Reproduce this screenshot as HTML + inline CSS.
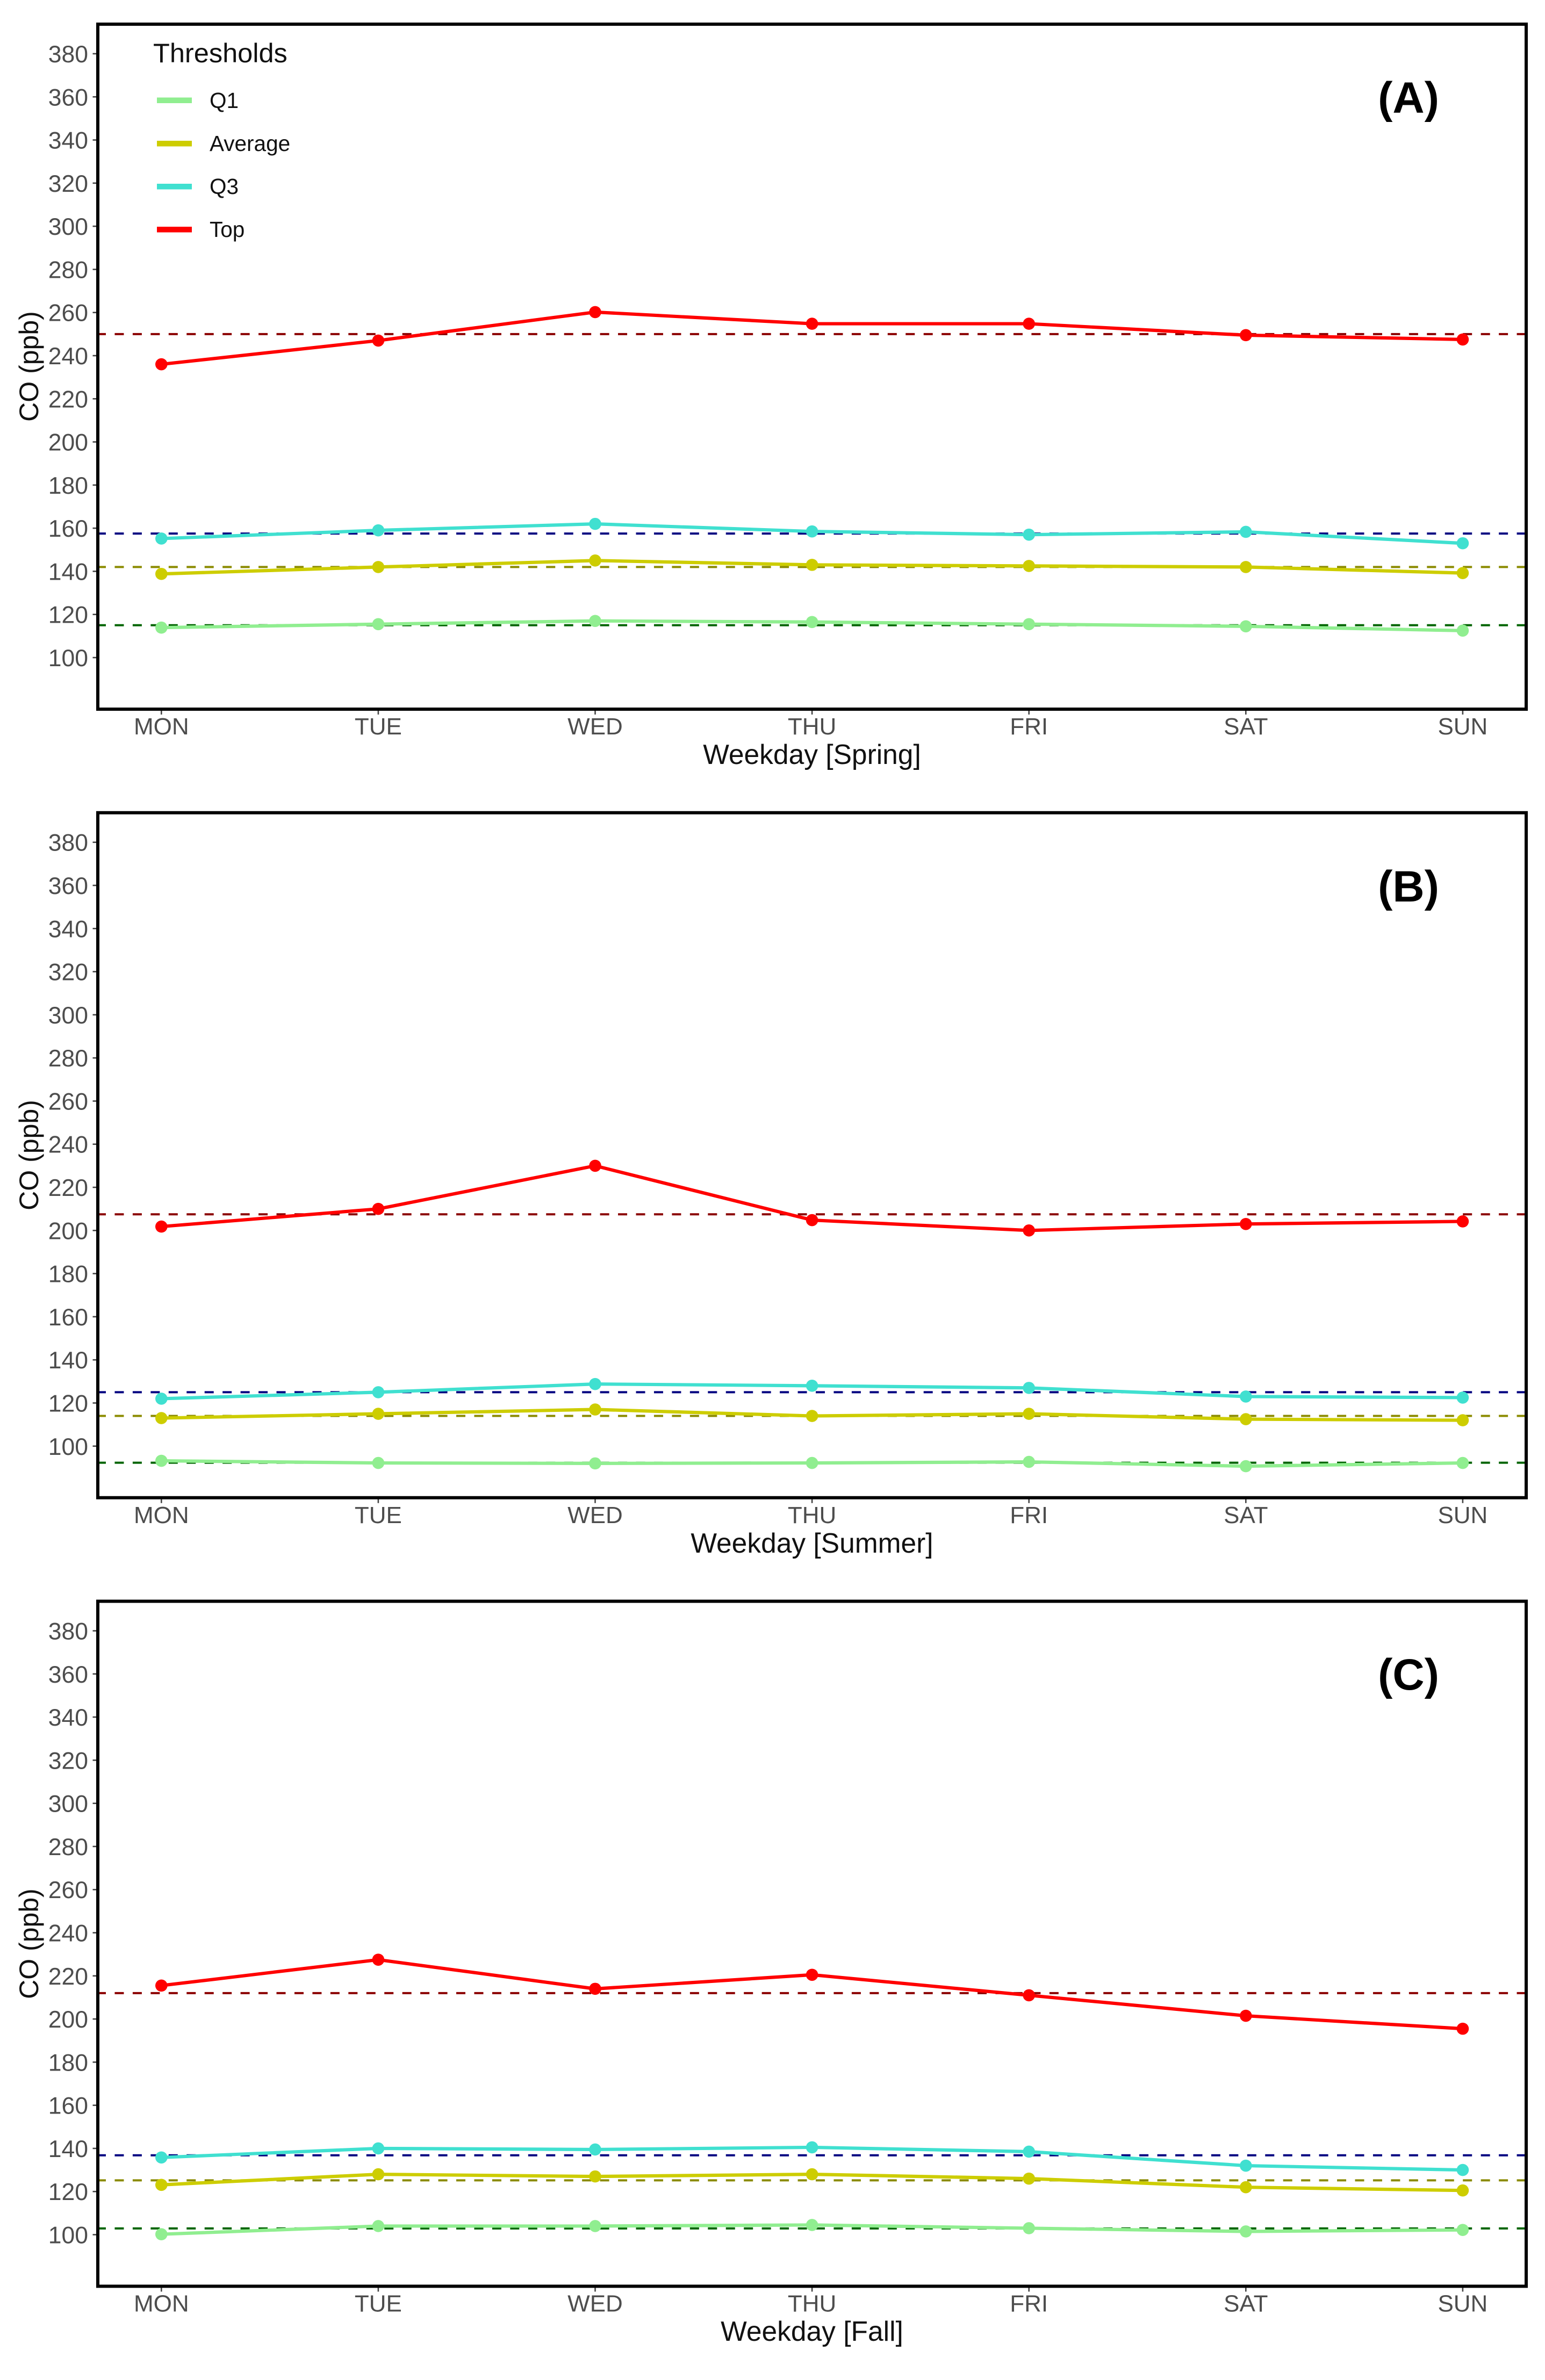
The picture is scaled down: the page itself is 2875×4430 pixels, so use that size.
<!DOCTYPE html>
<html lang="en">
<head>
<meta charset="utf-8">
<title>CO by weekday and season</title>
<style>
html,body{margin:0;padding:0;background:#fff;}
svg{display:block;font-family:"Liberation Sans",Arial,sans-serif;}
</style>
</head>
<body>
<svg id="chart" xmlns="http://www.w3.org/2000/svg" width="2875" height="4430" viewBox="0 0 2875 4430">
  <rect x="0" y="0" width="2875" height="4430" fill="#fff"/>

  <g id="panel-0">
    <text transform="translate(71,682) rotate(-90)" text-anchor="middle" font-size="50" fill="#111">CO (ppb)</text>
    <text x="1511" y="1422" text-anchor="middle" font-size="51.5" fill="#111">Weekday [Spring]</text>
    <text x="2621" y="210" text-anchor="middle" font-size="82" font-weight="bold" fill="#000">(A)</text>
  </g>
  <g id="panel-1">
    <text transform="translate(71,2150) rotate(-90)" text-anchor="middle" font-size="50" fill="#111">CO (ppb)</text>
    <text x="1511" y="2890" text-anchor="middle" font-size="51.5" fill="#111">Weekday [Summer]</text>
    <text x="2621" y="1678" text-anchor="middle" font-size="82" font-weight="bold" fill="#000">(B)</text>
  </g>
  <g id="panel-2">
    <text transform="translate(71,3618) rotate(-90)" text-anchor="middle" font-size="50" fill="#111">CO (ppb)</text>
    <text x="1511" y="4357" text-anchor="middle" font-size="51.5" fill="#111">Weekday [Fall]</text>
    <text x="2621" y="3145" text-anchor="middle" font-size="82" font-weight="bold" fill="#000">(C)</text>
  </g>

  <g>
    <text x="285" y="116" font-size="50.5" fill="#111">Thresholds</text>
    <rect x="292" y="181.5" width="65" height="10.5" fill="#90EE90"/>
    <text x="390" y="201" font-size="40.5" fill="#111">Q1</text>
    <rect x="292" y="262" width="65" height="10.5" fill="#CDCD00"/>
    <text x="390" y="281" font-size="40.5" fill="#111">Average</text>
    <rect x="292" y="342" width="65" height="10.5" fill="#40E0D0"/>
    <text x="390" y="361" font-size="40.5" fill="#111">Q3</text>
    <rect x="292" y="422" width="65" height="10.5" fill="#FF0000"/>
    <text x="390" y="441" font-size="40.5" fill="#111">Top</text>
  </g>
</svg>
<script>
const weekdays = ['MON', 'TUE', 'WED', 'THU', 'FRI', 'SAT', 'SUN'];
const yTicks = [100, 120, 140, 160, 180, 200, 220, 240, 260, 280, 300, 320, 340, 360, 380];
const seriesNames = ['q1', 'average', 'q3', 'top'];
const lineColors = ['#90EE90', '#CDCD00', '#40E0D0', '#FF0000'];
const dashColors = ['#006400', '#8B8B00', '#000080', '#8B0000'];

const springQ1 = [113.9, 115.5, 117, 116.5, 115.5, 114.5, 112.5];
const springAverage = [138.8, 142, 145, 143, 142.5, 142, 139.2];
const springQ3 = [155.2, 159, 162, 158.5, 157, 158.3, 153];
const springTop = [236, 247, 260.2, 254.8, 254.8, 249.5, 247.5];
const springThresholds = [115, 142, 157.5, 250];

const summerQ1 = [93.2, 92.2, 92, 92.2, 92.7, 90.7, 92.2];
const summerAverage = [113, 115, 117, 114, 115, 112.5, 112];
const summerQ3 = [122, 125, 128.8, 128, 127, 123, 122.5];
const summerTop = [201.8, 210, 230, 204.8, 200, 203, 204.2];
const summerThresholds = [92.3, 114, 125, 207.5];

const fallQ1 = [100.2, 104, 104, 104.5, 103, 101.5, 102.2];
const fallAverage = [123.1, 128, 127, 128, 126, 122, 120.5];
const fallQ3 = [135.8, 140, 139.5, 140.5, 138.5, 132, 130];
const fallTop = [215.5, 227.5, 214, 220.5, 211, 201.5, 195.5];
const fallThresholds = [102.9, 125.2, 136.8, 212];

const seasons = [
  { key: 'spring', series: [springQ1, springAverage, springQ3, springTop], thresholds: springThresholds },
  { key: 'summer', series: [summerQ1, summerAverage, summerQ3, summerTop], thresholds: summerThresholds },
  { key: 'fall', series: [fallQ1, fallAverage, fallQ3, fallTop], thresholds: fallThresholds }
];

const NS = 'http://www.w3.org/2000/svg';
const PANEL_STEP = 1467.75;
const frameLeft = 182, frameRight = 2840;

function xScale(i) { return 300.3 + 403.6 * i; }
function yScale(value, panel) { return 1224 + panel * PANEL_STEP - (value - 100) * 4.0143; }
function make(tag, attrs, parent) {
  const el = document.createElementNS(NS, tag);
  for (const k in attrs) el.setAttribute(k, attrs[k]);
  parent.appendChild(el);
  return el;
}

seasons.forEach(function (season, p) {
  const group = document.getElementById('panel-' + p);
  const top = 45 + p * PANEL_STEP;
  const bottom = 1320 + p * PANEL_STEP;

  yTicks.forEach(function (t) {
    const yy = yScale(t, p);
    const tick = make('line', { x1: 172.5, x2: 180, y1: yy, y2: yy, stroke: '#444', 'stroke-width': 2.6 }, group);
    
    
    const label = make('text', { x: 164, y: yy + 16, 'text-anchor': 'end', 'font-size': 44.5, fill: '#4d4d4d' }, group);
    
    
    label.textContent = t;
  });

  weekdays.forEach(function (d, i) {
    const xx = xScale(i);
    const tick = make('line', { x1: xx, x2: xx, y1: bottom, y2: bottom + 10, stroke: '#444', 'stroke-width': 2.6 }, group);
    
    
    const label = make('text', { x: xx, y: bottom + 47, 'text-anchor': 'middle', 'font-size': 44, fill: '#4d4d4d' }, group);
    
    
    label.textContent = d;
  });

  season.thresholds.forEach(function (v, s) {
    const yy = yScale(v, p);
    const dash = make('line', { x1: 180, x2: frameRight, y1: yy, y2: yy, stroke: dashColors[s], 'stroke-width': 4, 'stroke-dasharray': '17 16.45' }, group);
    
    
  });

  season.series.forEach(function (values, s) {
    const pts = values.map(function (v, i) { return xScale(i) + ',' + yScale(v, p); }).join(' ');
    const line = make('polyline', { points: pts, fill: 'none', stroke: lineColors[s], 'stroke-width': 6.2, 'stroke-linejoin': 'round' }, group);
    
    
    values.forEach(function (v, i) {
      const dot = make('circle', { cx: xScale(i), cy: yScale(v, p), r: 11.3, fill: lineColors[s] }, group);
      
      
    });
  });

  const frame = make('rect', { x: frameLeft, y: top, width: frameRight - frameLeft, height: bottom - top, fill: 'none', stroke: '#000', 'stroke-width': 6 }, group);
  
  
});
</script>
</body>
</html>
